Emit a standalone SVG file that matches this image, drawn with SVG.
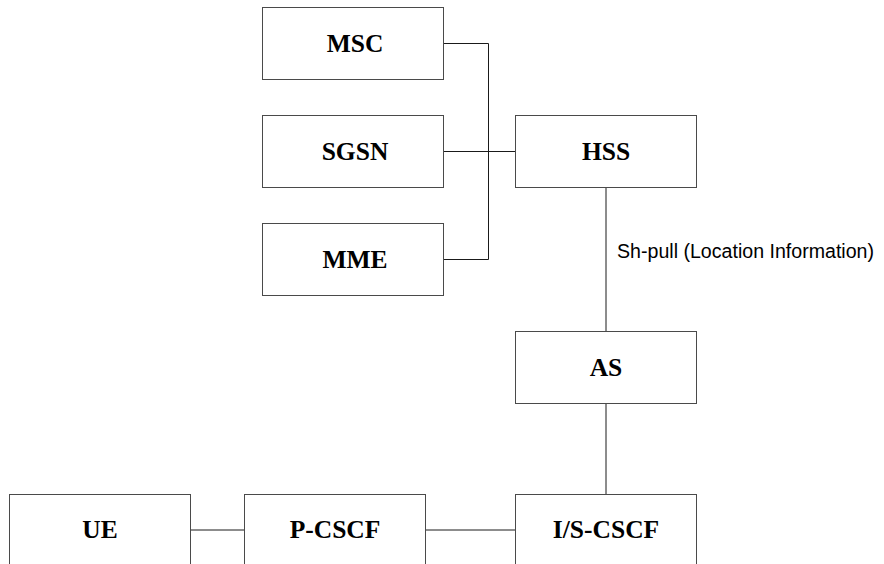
<svg xmlns="http://www.w3.org/2000/svg" width="884" height="564" viewBox="0 0 884 564">
  <style>
    .box { fill: #ffffff; stroke: #4a4a4a; stroke-width: 1; }
    .name { font-family: "Liberation Serif", "Times New Roman", serif; font-weight: bold; font-size: 25.5px; fill: #000000; text-anchor: middle; }
    .link { fill: none; stroke: #1a1a1a; stroke-width: 1; }
    .note { font-family: "Liberation Sans", Arial, sans-serif; font-size: 19.6px; fill: #000000; }
  </style>
  <rect width="884" height="564" fill="#ffffff"/>

  <!-- connectors -->
  <g id="connectors">
    <path class="link" d="M443.5 43.5 H488.5 V259.5 H443.5"/>
    <path class="link" d="M443.5 151.5 H488.5"/>
    <path class="link" d="M488.5 151.5 H515.5" stroke-width="1.6"/>
    <path class="link" d="M606 187.5 V331.5"/>
    <path class="link" d="M606 403.5 V494.5"/>
    <path class="link" d="M190.5 530 H244.5"/>
    <path class="link" d="M425.5 530 H515.5"/>
    <text class="note" x="617" y="258">Sh-pull (Location Information)</text>
  </g>

  <g id="msc">
    <rect class="box" x="262.5" y="7.5" width="181" height="72"/>
    <text class="name" x="355" y="52">MSC</text>
  </g>
  <g id="sgsn">
    <rect class="box" x="262.5" y="115.5" width="181" height="72"/>
    <text class="name" x="355" y="160">SGSN</text>
  </g>
  <g id="mme">
    <rect class="box" x="262.5" y="223.5" width="181" height="72"/>
    <text class="name" x="355" y="268">MME</text>
  </g>
  <g id="hss">
    <rect class="box" x="515.5" y="115.5" width="181" height="72"/>
    <text class="name" x="606" y="160">HSS</text>
  </g>
  <g id="as">
    <rect class="box" x="515.5" y="331.5" width="181" height="72"/>
    <text class="name" x="606" y="376">AS</text>
  </g>
  <g id="ue">
    <rect class="box" x="9.5" y="494.5" width="181" height="72"/>
    <text class="name" x="100" y="538">UE</text>
  </g>
  <g id="p-cscf">
    <rect class="box" x="244.5" y="494.5" width="181" height="72"/>
    <text class="name" x="335" y="538">P-CSCF</text>
  </g>
  <g id="is-cscf">
    <rect class="box" x="515.5" y="494.5" width="181" height="72"/>
    <text class="name" x="606" y="538">I/S-CSCF</text>
  </g>
</svg>
